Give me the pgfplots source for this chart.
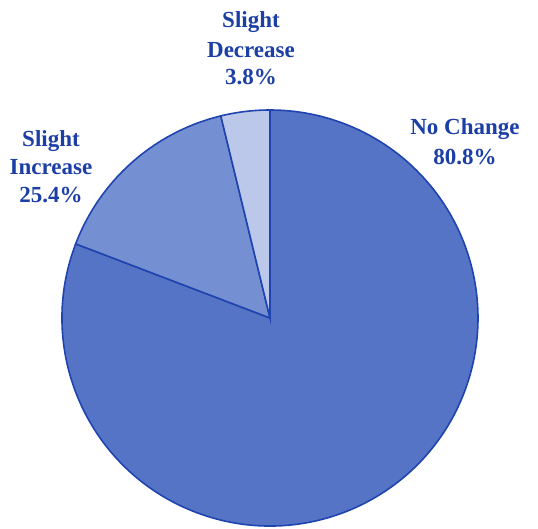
\documentclass[border=0pt]{standalone}
\usepackage{pgfplots}
\pgfplotsset{compat=1.18}
\usepackage{pgfplotstable}
\usepackage{fontspec}
\setmainfont{Liberation Serif}
\definecolor{txtblue}{HTML}{1C3FA5}
\definecolor{edgeblue}{HTML}{1F44B0}
\definecolor{nochange}{HTML}{5674C6}
\definecolor{incr}{HTML}{7490D2}
\definecolor{decr}{HTML}{BCC8EA}
% drawn slice shares (percent)
\pgfplotstableread{
slice share
decrease 3.8
increase 15.4
nochange 80.8
}\piedata
\pgfplotstablegetelem{0}{share}\of\piedata\let\sDec\pgfplotsretval
\pgfplotstablegetelem{1}{share}\of\piedata\let\sInc\pgfplotsretval
\pgfplotstablegetelem{2}{share}\of\piedata\let\sNoc\pgfplotsretval
\pgfmathsetmacro{\aA}{90}
\pgfmathsetmacro{\aB}{90+3.6*\sDec}
\pgfmathsetmacro{\aC}{\aB+3.6*\sInc}
\pgfmathsetmacro{\aD}{\aC+3.6*\sNoc}
\begin{document}
\begin{tikzpicture}
\begin{axis}[
  width=538bp, height=529bp, scale only axis,
  xmin=0, xmax=538, ymin=0, ymax=529, enlargelimits=false,
  hide axis, clip=false,
]
\def\cx{270}\def\cy{211}\def\R{208bp}
\filldraw[fill=nochange, draw=edgeblue, line width=1.6pt]
  (axis cs:\cx,\cy) -- ++(\aC:\R) arc[start angle=\aC, end angle=\aD, radius=\R] -- cycle;
\filldraw[fill=incr, draw=edgeblue, line width=1.6pt]
  (axis cs:\cx,\cy) -- ++(\aB:\R) arc[start angle=\aB, end angle=\aC, radius=\R] -- cycle;
\filldraw[fill=decr, draw=edgeblue, line width=1.6pt]
  (axis cs:\cx,\cy) -- ++(\aA:\R) arc[start angle=\aA, end angle=\aB, radius=\R] -- cycle;
\tikzset{lab/.style={anchor=base, text=txtblue, font=\fontsize{23bp}{27bp}\selectfont\bfseries, inner sep=0pt}}
\node[lab] at (axis cs:251,501) {Slight};
\node[lab] at (axis cs:251,471) {Decrease};
\node[lab] at (axis cs:251,444) {3.8\%};
\node[lab] at (axis cs:465,394) {No Change};
\node[lab] at (axis cs:465,364) {80.8\%};
\node[lab] at (axis cs:51,382) {Slight};
\node[lab] at (axis cs:51,354) {Increase};
\node[lab] at (axis cs:51,326) {25.4\%};
\end{axis}
\pgfresetboundingbox
\path (current axis.south west) rectangle (current axis.north east);
\end{tikzpicture}
\end{document}
